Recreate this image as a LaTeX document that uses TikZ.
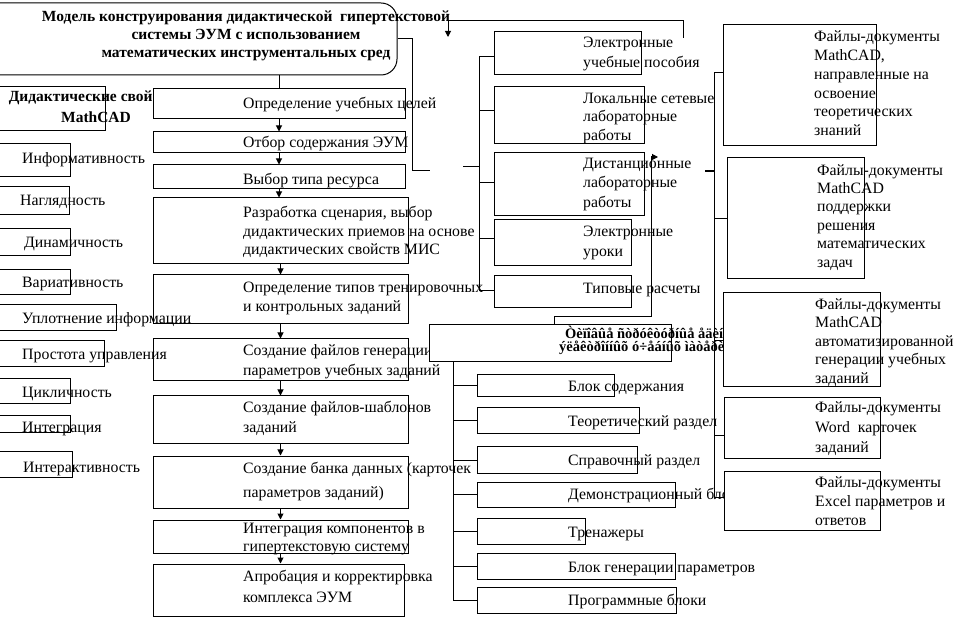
\documentclass[tikz,border=0pt]{standalone}
\usepackage{fontspec}
\setmainfont{Liberation Serif}
\usetikzlibrary{arrows.meta,fit}
\tikzset{
  box/.style={draw, fill=white, inner sep=0pt, line width=1pt},
  txt/.style={anchor=base west, inner sep=0pt, font=\fontsize{15.8}{19}\selectfont},
  btxt/.style={anchor=base, inner sep=0pt, font=\fontsize{15.5}{18}\selectfont\bfseries},
  gtxt/.style={anchor=base west, inner sep=0pt, font=\fontsize{14.5}{13}\selectfont\bfseries},
  conn/.style={line width=1pt},
  arr/.style={line width=1pt, -{Triangle[length=6pt,width=6pt]}},
}
\newcommand\bx[5]{\node[box, fit={(#2,#3) (#4,#5)}] (#1) {};}
\begin{document}
\begin{tikzpicture}[x=1pt,y=-1pt]
\useasboundingbox (0,0) rectangle (970,620);
% ---- title
\node[box, rounded corners=16pt, fit={(-20,3) (397,75)}] (title) {};
\node[btxt] (t1) at (246,22) {Модель конструирования дидактической \ гипертекстовой};
\node[btxt] (t2) at (246,40) {системы ЭУМ с использованием};
\node[btxt] (t3) at (246,58) {математических инструментальных сред};
% ---- didactic header
\bx{dh}{-2}{87}{105}{131}
\node[btxt] (dh1) at (96,102) {Дидактические свойства};
\node[btxt] (dh2) at (96,123) {MathCAD};
% ---- process column
\bx{b1}{153}{89}{405}{119}
\node[txt] (b1a) at (243,109) {Определение учебных целей};
\bx{b2}{153}{132}{405}{153}
\node[txt] (b2a) at (243,148) {Отбор содержания ЭУМ};
\bx{b3}{153}{165}{405}{189}
\node[txt] (b3a) at (243,185) {Выбор типа ресурса};
\bx{b4}{153}{198}{408}{264}
\node[txt] (b4a) at (243,218) {Разработка сценария, выбор};
\node[txt] (b4b) at (243,237) {дидактических приемов на основе};
\node[txt] (b4c) at (243,255) {дидактических свойств МИС};
\bx{b5}{153}{275}{408}{324}
\node[txt] (b5a) at (243,293) {Определение типов тренировочных};
\node[txt] (b5b) at (243,312) {и контрольных заданий};
\bx{b6}{153}{339}{408}{381}
\node[txt] (b6a) at (243,356) {Создание файлов генерации};
\node[txt] (b6b) at (243,376) {параметров учебных заданий};
\bx{b7}{153}{396}{408}{444}
\node[txt] (b7a) at (243,413) {Создание файлов-шаблонов};
\node[txt] (b7b) at (243,432) {заданий};
\bx{b8}{153}{456}{408}{508}
\node[txt] (b8a) at (243,473) {Создание банка данных (карточек};
\node[txt] (b8b) at (243,497) {параметров заданий)};
\bx{b9}{153}{520}{408}{553}
\node[txt] (b9a) at (243,533) {Интеграция компонентов в};
\node[txt] (b9b) at (243,551) {гипертекстовую систему};
\bx{b10}{153}{564}{404}{616}
\node[txt] (b10a) at (243,581) {Апробация и корректировка};
\node[txt] (b10b) at (243,602) {комплекса ЭУМ};
\draw[conn] (b1.north |- title.south) -- (b1.north);
\foreach \a/\b in {b1/b2,b2/b3,b3/b4,b4/b5,b5/b6,b6/b7,b7/b8,b8/b9,b9/b10}
  \draw[arr] (\a.south) -- (\a.south |- \b.north);
% ---- properties column
\bx{p1}{-2}{144}{70}{177}
\node[txt] (p1a) at (22,164) {Информативность};
\bx{p2}{-2}{187}{69}{215}
\node[txt] (p2a) at (20,206) {Наглядность};
\bx{p3}{-2}{229}{70}{256}
\node[txt] (p3a) at (24,248) {Динамичность};
\bx{p4}{-2}{270}{70}{295}
\node[txt] (p4a) at (22,288) {Вариативность};
\bx{p5}{-2}{305}{116}{331}
\node[txt] (p5a) at (22,324) {Уплотнение информации};
\bx{p6}{-2}{341}{104}{367}
\node[txt] (p6a) at (22,360) {Простота управления};
\bx{p7}{-2}{379}{70}{404}
\node[txt] (p7a) at (22,398) {Цикличность};
\bx{p8}{-2}{416}{70}{433}
\node[txt] (p8a) at (22,433) {Интеграция};
\bx{p9}{-2}{452}{72}{477}
\node[txt] (p9a) at (23,472) {Интерактивность};
% ---- resource types
\bx{e1}{494}{32}{641}{75}
\node[txt] (e1a) at (583,48) {Электронные};
\node[txt] (e1b) at (583,68) {учебные пособия};
\bx{e2}{494}{87}{644}{144}
\node[txt] (e2a) at (583,104) {Локальные сетевые};
\node[txt] (e2b) at (583,122) {лабораторные};
\node[txt] (e2c) at (583,141) {работы};
\bx{e3}{494}{153}{644}{216}
\node[txt] (e3a) at (583,169) {Дистанционные};
\node[txt] (e3b) at (583,188) {лабораторные};
\node[txt] (e3c) at (583,208) {работы};
\bx{e4}{494}{220}{631}{266}
\node[txt] (e4a) at (583,237) {Электронные};
\node[txt] (e4b) at (583,257) {уроки};
\bx{e5}{494}{276}{631}{308}
\node[txt] (e5a) at (583,294) {Типовые расчеты};
% top arrow
\coordinate (ta) at (683,38);
\coordinate (tb) at (448,37);
\draw[arr] (ta) -- ++(0,-17) -| (tb);
% title -> resource trunk
\coordinate (c1) at (430,171);
\draw[conn] (title.east) -- ++(15,0) |- (c1);
\coordinate (c2) at (463,167);
\coordinate (et) at (479,57);
\coordinate (eb) at (479,291);
\draw[conn] (c2) -- (c2 -| et);
\draw[conn] (et) -- (eb);
\foreach \n/\y in {e1/57,e2/111,e3/183,e4/239,e5/291}
  \draw[conn] (479,\y) coordinate (ebr) -- (ebr -| \n.west);
% ---- structural units box
\bx{g}{429}{325}{671}{362}
\node[gtxt] (g1) at (565,339) {Òèïîâûå ñòðóêòóðíûå åäèíèöû};
\node[gtxt] (g2) at (559,352) {ýëåêòðîííûõ ó÷åáíûõ ìàòåðèàëîâ};
\coordinate (gt) at (554,325);
\coordinate (gr) at (658,157);
\draw[arr] (gt) -- ++(0,-8) -| (651,157) -- (gr);
% ---- bottom blocks
\bx{k1}{477}{375}{614}{397}
\node[txt] (k1a) at (568,392) {Блок содержания};
\bx{k2}{477}{408}{639}{434}
\node[txt] (k2a) at (568,427) {Теоретический раздел};
\bx{k3}{477}{447}{637}{473}
\node[txt] (k3a) at (568,465) {Справочный раздел};
\bx{k4}{477}{482}{675}{507}
\node[txt] (k4a) at (568,500) {Демонстрационный блок};
\bx{k5}{477}{518}{585}{544}
\node[txt] (k5a) at (568,537) {Тренажеры};
\bx{k6}{477}{553}{675}{579}
\node[txt] (k6a) at (568,572) {Блок генерации параметров};
\bx{k7}{477}{587}{676}{613}
\node[txt] (k7a) at (568,605) {Программные блоки};
\coordinate (kt) at (453,362);
\coordinate (kb) at (453,601);
\draw[conn] (kt) -- (kb);
\foreach \n in {k1,k2,k3,k4,k5,k6,k7}
  \draw[conn] (kt |- \n.west) -- (\n.west);
% ---- right column
\coordinate (rt) at (714,73);
\coordinate (rb) at (714,497);
\draw[conn] (rt) -- (rb);
\draw[line width=2pt] (705,171) coordinate (st) -- (st -| rt);
\bx{r1}{723}{25}{876}{146}
\node[txt] (r1a) at (814,42) {Файлы-документы};
\node[txt] (r1b) at (814,61) {MathCAD,};
\node[txt] (r1c) at (814,80) {направленные на};
\node[txt] (r1d) at (814,99) {освоение};
\node[txt] (r1e) at (814,117) {теоретических};
\node[txt] (r1f) at (814,136) {знаний};
\bx{r2}{727}{158}{864}{279}
\node[txt] (r2a) at (817,176) {Файлы-документы};
\node[txt] (r2b) at (817,194) {MathCAD};
\node[txt] (r2c) at (817,212) {поддержки};
\node[txt] (r2d) at (817,231) {решения};
\node[txt] (r2e) at (817,249) {математических};
\node[txt] (r2f) at (817,268) {задач};
\bx{r3}{723}{293}{880}{387}
\node[txt] (r3a) at (815,310) {Файлы-документы};
\node[txt] (r3b) at (815,328) {MathCAD};
\node[txt] (r3c) at (815,347) {автоматизированной};
\node[txt] (r3d) at (815,365) {генерации учебных};
\node[txt] (r3e) at (815,384) {заданий};
\bx{r4}{724}{398}{880}{458}
\node[txt] (r4a) at (815,413) {Файлы-документы};
\node[txt] (r4b) at (815,433) {Word \ карточек};
\node[txt] (r4c) at (815,453) {заданий};
\bx{r5}{724}{471}{880}{530}
\node[txt] (r5a) at (815,487) {Файлы-документы};
\node[txt] (r5b) at (815,506) {Excel параметров и};
\node[txt] (r5c) at (815,525) {ответов};
\foreach \n/\y in {r1/73,r2/219,r3/341,r4/436,r5/497}
  \draw[conn] (714,\y) coordinate (rbr) -- (rbr -| \n.west);
\end{tikzpicture}
\end{document}
